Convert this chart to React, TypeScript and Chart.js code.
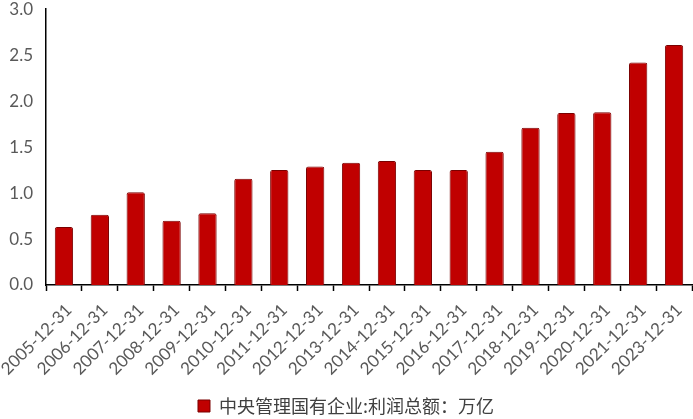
import { useEffect, useRef } from 'react';
import { Chart, registerables } from 'chart.js';

Chart.register(...registerables);

const categories = [
  '2005-12-31', '2006-12-31', '2007-12-31', '2008-12-31', '2009-12-31',
  '2010-12-31', '2011-12-31', '2012-12-31', '2013-12-31', '2014-12-31',
  '2015-12-31', '2016-12-31', '2017-12-31', '2018-12-31', '2019-12-31',
  '2020-12-31', '2021-12-31', '2023-12-31',
];
const profits = [
  0.63, 0.765, 1.01, 0.70, 0.78, 1.155, 1.25, 1.29, 1.33, 1.35,
  1.25, 1.25, 1.45, 1.71, 1.87, 1.88, 2.42, 2.61,
];
const seriesLabel = '中央管理国有企业:利润总额：万亿';

export default function App() {
  const canvasRef = useRef<HTMLCanvasElement | null>(null);

  useEffect(() => {
    if (!canvasRef.current) return;
    const chart = new Chart(canvasRef.current, {
      type: 'bar',
      data: {
        labels: categories,
        datasets: [{
          label: seriesLabel,
          data: profits,
          backgroundColor: '#c00000',
          borderColor: '#7a0000',
          borderWidth: 1,
          borderRadius: 2,
          categoryPercentage: 1,
          barPercentage: 0.51,
        }],
      },
      options: {
        animation: false,
        responsive: false,
        maintainAspectRatio: false,
        layout: { padding: { top: 0, right: 1, left: 0, bottom: 0 } },
        plugins: {
          tooltip: { enabled: false },
          legend: {
            position: 'bottom',
            labels: {
              color: '#404040',
              font: { family: '"Noto Sans CJK SC"', size: 18 },
              boxWidth: 12,
              boxHeight: 12,
              padding: 5,
            },
          },
        },
        scales: {
          x: {
            grid: {
              display: true,
              drawOnChartArea: false,
              drawTicks: true,
              tickLength: 6,
              tickWidth: 1.5,
              tickColor: '#000',
              offset: true,
            },
            border: { display: true, color: '#000', width: 1.5 },
            ticks: {
              color: '#595959',
              font: { family: 'Lato', size: 17 },
              maxRotation: 45,
              minRotation: 45,
              autoSkip: false,
              padding: 9,
              labelOffset: 5,
            },
            afterFit: (scale: any) => {
              scale.height = 107;
              scale.paddingLeft = 0;
              scale.paddingRight = 0;
            },
          },
          y: {
            min: 0,
            max: 3,
            grid: { display: false, drawTicks: false },
            border: { display: true, color: '#000', width: 1.5 },
            ticks: {
              stepSize: 0.5,
              color: '#595959',
              font: { family: 'Lato', size: 17 },
              padding: 13,
              callback: (v: any) => Number(v).toFixed(1),
            },
            afterFit: (scale: any) => { scale.width = 46; },
          },
        },
      },
    });
    return () => chart.destroy();
  }, []);

  return (
    <div style={{ position: 'absolute', left: 0, top: 0, width: 693, height: 419, overflow: 'hidden', background: '#fff' }}>
      <canvas ref={canvasRef} width={693} height={439} style={{ position: 'absolute', left: 0, top: -14 }} />
    </div>
  );
}
